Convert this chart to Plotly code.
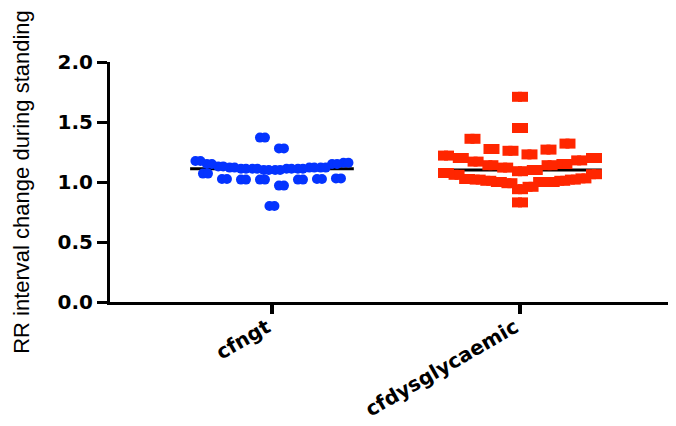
import math
import plotly.graph_objects as go

categories = ["cfngt", "cfdysglycaemic"]
cfngt_values = [1.37, 1.28, 1.175, 1.16, 1.15, 1.15, 1.13, 1.12, 1.12, 1.12, 1.11, 1.11,
                1.11, 1.11, 1.10, 1.10, 1.07, 1.03, 1.025, 1.025, 1.02, 1.02, 1.02, 0.97, 0.80]
cfdys_values = [1.71, 1.45, 1.36, 1.32, 1.275, 1.27, 1.26, 1.23, 1.22, 1.20, 1.20, 1.18,
                1.17, 1.15, 1.14, 1.14, 1.12, 1.10, 1.09, 1.075, 1.065, 1.06, 1.03, 1.025,
                1.02, 1.02, 1.01, 1.01, 1.0, 1.0, 1.0, 0.99, 0.96, 0.94, 0.83]
y_ticks = [0.0, 0.5, 1.0, 1.5, 2.0]
y_tick_labels = ["0.0", "0.5", "1.0", "1.5", "2.0"]

# page body has an 8px margin, so the figure is sized to fit the 676x426 window
W, H = 668, 418
ML, MR, MT, MB = 102, 0, 54, 124
XR = [0.347, 2.629]
YR = [0, 2]
xscale = (W - ML - MR) / (XR[1] - XR[0])

# GraphPad-like scatter layout: values grouped into horizontal rows,
# smallest values of each row near the centre, larger ones outward.
ROW_H = 0.145
ROW_ORIGIN = 1.084
SPACING = 19.0
MAX_W = 148.0


def scatter_offsets(values):
    rows = {}
    for i, v in enumerate(values):
        k = math.floor((v - ROW_ORIGIN) / ROW_H)
        rows.setdefault(k, []).append(i)
    offs = [0.0] * len(values)
    for k, idx in rows.items():
        idx.sort(key=lambda i: values[i])
        n = len(idx)
        sp = SPACING if n < 2 else min(SPACING, MAX_W / (n - 1))
        slots = [(j - (n - 1) / 2) * sp for j in range(n)]
        slots.sort(key=lambda s: (round(abs(s), 4), -s))
        for t, i in enumerate(idx):
            offs[i] = slots[t] / xscale
    return offs


def median(v):
    s = sorted(v)
    n = len(s)
    return s[n // 2] if n % 2 else (s[n // 2 - 1] + s[n // 2]) / 2


fig = go.Figure()
groups = [(1, cfngt_values, "#0433FF", "circle", 2.5),
          (2, cfdys_values, "#FF2600", "square", 3.0)]
half = 0.33
for xc, vals, col, sym, sh in groups:
    m = median(vals)
    fig.add_trace(go.Scatter(x=[xc - half, xc + half], y=[m, m], mode="lines",
                             line=dict(color="black", width=3), showlegend=False,
                             hoverinfo="skip"))
for xc, vals, col, sym, sh in groups:
    offs = scatter_offsets(vals)
    d = sh / xscale
    for s in (-d, d):
        fig.add_trace(go.Scatter(x=[xc + o + s for o in offs], y=vals, mode="markers",
                                 marker=dict(symbol=sym, size=10, color=col,
                                             line=dict(width=0)),
                                 showlegend=False))

fig.update_layout(
    width=W, height=H,
    margin=dict(l=ML, r=MR, t=MT, b=MB, autoexpand=False),
    plot_bgcolor="white", paper_bgcolor="white",
    showlegend=False,
)
fig.update_xaxes(range=XR, tickvals=[1, 2], ticktext=categories, tickangle=-30,
                 automargin=False, ticklabelstandoff=-6, ticklabelshift=-5,
                 showgrid=False, zeroline=False, showline=True, linecolor="black",
                 linewidth=3, ticks="outside", ticklen=9, tickwidth=4, tickcolor="black",
                 tickfont=dict(family="DejaVu Sans", size=20, color="black", weight="bold"))
fig.update_yaxes(range=YR, tickvals=y_ticks, ticktext=y_tick_labels, automargin=False,
                 showgrid=False, zeroline=False, showline=True, linecolor="black",
                 linewidth=3, ticks="outside", ticklen=10, tickwidth=3, tickcolor="black",
                 tickfont=dict(family="DejaVu Sans", size=20, color="black", weight="bold"),
                 title=dict(text="RR interval change during standing",
                            font=dict(family="Liberation Sans", size=22, color="black"),
                            standoff=22))

fig.write_html("out.html")
